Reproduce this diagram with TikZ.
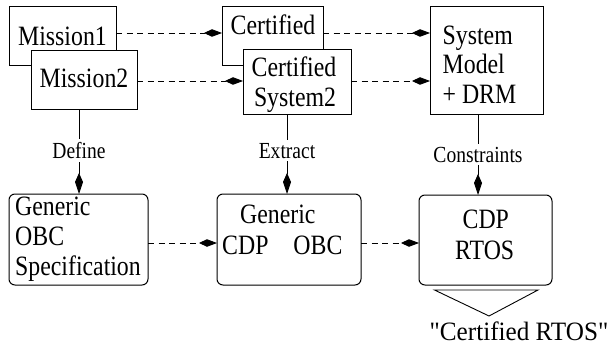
\documentclass[tikz,border=0pt]{standalone}
\usepackage{fontspec}
\setmainfont{Liberation Serif}[FakeStretch=0.85]
\newfontfamily\quotefont{Liberation Serif}[FakeStretch=0.95, Ligatures=TeXOff]
\usetikzlibrary{arrows.meta}

\tikzset{
  box/.style={draw, line width=1pt, fill=white, inner sep=0pt, outer sep=0pt},
  rbox/.style={box, rounded corners=6pt},
  txt/.style={inner sep=0pt, anchor=base, font=\fontsize{28}{32}\selectfont},
  txtl/.style={txt, anchor=base west},
  lbl/.style={fill=white, inner sep=3pt, font=\fontsize{23}{26}\selectfont},
  flow/.style={line width=0.9pt, dash pattern=on 6pt off 4.5pt,
    -{Kite[length=18pt, width=7.5pt, inset=8pt]}},
  feed/.style={line width=0.9pt,
    -{Kite[length=21pt, width=8pt, inset=9pt]}},
}

\begin{document}
\begin{tikzpicture}[x=1pt, y=-1pt]
\useasboundingbox (0,0) rectangle (616,345);

% upper row: missions, certified systems, system model
\node[box, minimum width=107pt, minimum height=59pt] (m1) at (62.5,36.5) {};
\node[txt] (m1t) at (62.5,45.5) {Mission1};
\node[box, minimum width=106pt, minimum height=58pt] (m2) at (84,80) {};
\node[txt] (m2t) at (84,87.5) {Mission2};

\node[box, minimum width=101pt, minimum height=59pt] (c1) at (272.5,36.5) {};
\node[txt] (c1t) at (273,34.3) {Certified};
\node[box, minimum width=108pt, minimum height=64pt] (c2) at (297,82) {};
\node[txt] (c2a) at (294,76.7) {Certified};
\node[txt] (c2b) at (295,106.7) {System2};

\node[box, minimum width=113pt, minimum height=107pt] (sm) at (486.5,60.5) {};
\node[txtl] (sma) at (442.5,44.3) {System};
\node[txtl] (smb) at (442.5,74) {Model};
\node[txtl] (smc) at (442.5,103.3) {+ DRM};

% lower row: generic specification, generic CDP, CDP RTOS
\node[rbox, minimum width=139pt, minimum height=91pt] (g1) at (78.5,239.5) {};
\node[txtl] (g1a) at (15,215) {Generic};
\node[txtl] (g1b) at (15,245) {OBC};
\node[txtl] (g1c) at (15,275) {Specification};

\node[rbox, minimum width=144pt, minimum height=91pt] (g2) at (289,239.5) {};
\node[txtl] (g2a) at (240,223.3) {Generic};
\node[txtl] (g2b) at (222,254) {CDP\hspace{25pt}OBC};

\node[rbox, minimum width=133pt, minimum height=90pt] (g3) at (485.5,240) {};
\node[txt] (g3a) at (485.8,228.3) {CDP};
\node[txt] (g3b) at (484.7,259.3) {RTOS};

% dashed flows
\draw[flow] ([yshift=3.5pt]m1.east) -- ([yshift=3.5pt]m1.east -| c1.west);
\draw[flow] ([yshift=-1pt]m2.east) -- ([yshift=-1pt]m2.east -| c2.west);
\draw[flow] ([yshift=3.5pt]c1.east) -- ([yshift=3.5pt]c1.east -| sm.west);
\draw[flow] ([yshift=1pt]c2.east) -- ([yshift=1pt]c2.east -| sm.west);
\draw[flow] ([yshift=-3.5pt]g1.east) -- ([yshift=-3.5pt]g1.east -| g2.west);
\draw[flow] ([yshift=-3.5pt]g2.east) -- ([yshift=-3.5pt]g2.east -| g3.west);

% vertical derivations
\draw[feed] ([xshift=-5pt]m2.south) -- ([xshift=-5pt]m2.south |- g1.north)
  node[lbl, pos=0.49] (ldef) {Define};
\draw[feed] ([xshift=-10pt]c2.south) -- ([xshift=-10pt]c2.south |- g2.north)
  node[lbl, pos=0.46] (lext) {Extract};
\draw[feed] ([xshift=-8.5pt]sm.south) -- ([xshift=-8.5pt]sm.south |- g3.north)
  node[lbl, pos=0.5] (lcon) {Constraints};

% result marker
\coordinate (tl) at ([xshift=-51pt, yshift=-5pt]g3.south);
\coordinate (tr) at ([xshift=52.5pt, yshift=-5pt]g3.south);
\coordinate (tp) at ([xshift=3.5pt, yshift=-31pt]g3.south);
\draw[line width=0.9pt, line join=miter] (tl) -- (tr) -- (tp) -- cycle;
\node[inner sep=0pt, anchor=base, font=\quotefont\fontsize{26.5}{30}\selectfont] (res) at (519,340) {"Certified RTOS"};
\end{tikzpicture}
\end{document}
